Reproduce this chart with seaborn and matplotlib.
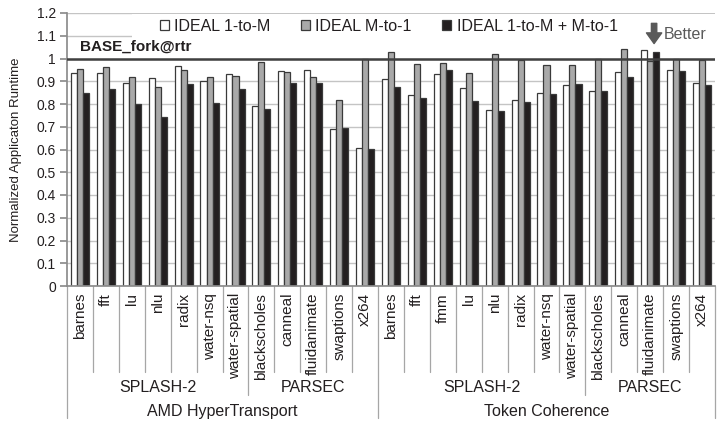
import matplotlib
matplotlib.use("Agg")
import matplotlib.pyplot as plt
from matplotlib.patches import Rectangle
from matplotlib.ticker import FuncFormatter
import numpy as np
import pandas as pd
import seaborn as sns

# ---- data ---------------------------------------------------------------
platforms = ["AMD HyperTransport", "Token Coherence"]
suites = [["SPLASH-2", "PARSEC"], ["SPLASH-2", "PARSEC"]]
suite_benchmarks = [
    [["barnes", "fft", "lu", "nlu", "radix", "water-nsq", "water-spatial"],
     ["blackscholes", "canneal", "fluidanimate", "swaptions", "x264"]],
    [["barnes", "fft", "fmm", "lu", "nlu", "radix", "water-nsq", "water-spatial"],
     ["blackscholes", "canneal", "fluidanimate", "swaptions", "x264"]],
]
series_names = ["IDEAL 1-to-M", "IDEAL M-to-1", "IDEAL 1-to-M + M-to-1"]

ideal_1_to_m = [0.935, 0.935, 0.891, 0.913, 0.968, 0.901, 0.930,
                0.791, 0.945, 0.949, 0.690, 0.608,
                0.910, 0.840, 0.930, 0.872, 0.774, 0.818, 0.847, 0.884,
                0.859, 0.939, 1.037, 0.948, 0.891]
ideal_m_to_1 = [0.952, 0.961, 0.919, 0.873, 0.948, 0.920, 0.925,
                0.986, 0.942, 0.917, 0.816, 1.000,
                1.027, 0.974, 0.979, 0.935, 1.020, 0.993, 0.971, 0.971,
                1.000, 1.042, 0.989, 1.000, 0.992]
ideal_both = [0.850, 0.866, 0.798, 0.744, 0.886, 0.803, 0.864,
              0.777, 0.891, 0.894, 0.693, 0.601,
              0.876, 0.828, 0.949, 0.815, 0.770, 0.807, 0.844, 0.886,
              0.857, 0.920, 1.030, 0.945, 0.884]

baseline_value = 1.0
baseline_label = "BASE_fork@rtr"

# ---- long table ----------------------------------------------------------
bench_names, slots = [], []
for p, plat in enumerate(platforms):
    for s, suite in enumerate(suites[p]):
        for b in suite_benchmarks[p][s]:
            bench_names.append(b)
            slots.append(f"{plat}|{suite}|{b}")

rows = []
for vals, name in zip([ideal_1_to_m, ideal_m_to_1, ideal_both], series_names):
    for slot, v in zip(slots, vals):
        rows.append({"slot": slot, "series": name, "value": v})
df = pd.DataFrame(rows)

# ---- figure --------------------------------------------------------------
sns.set_theme(style="white")
plt.rcParams["font.family"] = ["Liberation Sans", "DejaVu Sans"]

fig = plt.figure(figsize=(7.19, 4.22), dpi=100)
ax = fig.add_axes([67 / 719, 1 - 286 / 422, 648 / 719, 273 / 422])

text_color = "#231f20"
edge = "#3a3a3a"
sns.barplot(data=df, x="slot", y="value", hue="series", order=slots,
            hue_order=series_names, palette=["#ffffff", "#a9a9a9", "#231f20"],
            edgecolor=edge, linewidth=0.9, width=0.7, gap=0,
            saturation=1, legend=False, ax=ax, zorder=2)

ax.set_xlim(-0.5, len(slots) - 0.5)
ax.set_ylim(0, 1.2)
ax.set_yticks(np.arange(0, 1.21, 0.1))
ax.yaxis.set_major_formatter(FuncFormatter(lambda v, _: f"{v:g}"))
ax.yaxis.grid(True, color="#c4c4c4", linewidth=1.0, zorder=0.5)
ax.set_axisbelow(True)

for side in ["top", "right"]:
    ax.spines[side].set_visible(False)
ax.spines["left"].set_color("#8c8c8c")
ax.spines["bottom"].set_color("#8c8c8c")
ax.tick_params(axis="y", length=5, color="#8c8c8c", labelsize=10,
               labelcolor=text_color, pad=3, left=True)
ax.tick_params(axis="x", length=0, labelsize=11, labelcolor=text_color, pad=5)
ax.set_xticks(range(len(slots)))
ax.set_xticklabels(bench_names, rotation=90, ha="center", va="top")
ax.set_xlabel("")
ax.set_ylabel("Normalized Applicaton Runtime", fontsize=9.5, color=text_color)
ax.yaxis.set_label_coords(-0.069, 0.5)

# baseline
ax.axhline(baseline_value, color="#404040", linewidth=1.8, zorder=3)
ax.text(0.02, 0.875, baseline_label, transform=ax.transAxes, fontsize=11,
        fontweight="bold", color=text_color, va="center", ha="left", zorder=5)

# legend area
ax.add_patch(Rectangle((0.1003, 0.897), 0.8997, 0.099, transform=ax.transAxes,
                       facecolor="white", edgecolor="none", zorder=1))
leg = ax.legend(handles=ax.containers, labels=series_names, ncol=3,
                loc="center left", bbox_to_anchor=(0.1435, 0.952),
                frameon=False, fontsize=11.5, handlelength=0.55,
                handleheight=0.55, handletextpad=0.35, columnspacing=1.9,
                borderpad=0, borderaxespad=0)
for t in leg.get_texts():
    t.set_color(text_color)

# "Better" marker
ax.annotate("", xy=(0.906, 0.888), xytext=(0.906, 0.962),
            xycoords="axes fraction",
            arrowprops=dict(arrowstyle="simple,head_length=0.7,head_width=1.0,tail_width=0.35",
                            color="#595959", mutation_scale=11, shrinkA=0, shrinkB=0),
            zorder=5)
ax.text(0.921, 0.922, "Better", transform=ax.transAxes, fontsize=11.5,
        color="#595959", va="center", ha="left", zorder=5)

# ---- hierarchical category axis ------------------------------------------
trans = ax.get_xaxis_transform()
sep_color = "#a6a6a6"
level_bench, level_suite, level_plat = -0.315, -0.399, -0.4835

suite_edges, plat_edges = [-0.5], [-0.5]
suite_centers, plat_centers = [], []
pos = -0.5
for p, plat in enumerate(platforms):
    start_p = pos
    for s, suite in enumerate(suites[p]):
        n = len(suite_benchmarks[p][s])
        suite_centers.append((pos + n / 2, suite))
        pos += n
        suite_edges.append(pos)
    plat_centers.append(((start_p + pos) / 2, plat))
    plat_edges.append(pos)

for i in range(len(slots) + 1):
    x = i - 0.5
    bottom = level_bench
    if x in suite_edges:
        bottom = level_suite
    if x in plat_edges:
        bottom = level_plat
    ax.plot([x, x], [0, bottom], transform=trans, color=sep_color,
            linewidth=0.9, clip_on=False)

for x, label in suite_centers:
    ax.text(x, -0.37, label, transform=trans, ha="center", va="center",
            fontsize=11.5, color=text_color)
for x, label in plat_centers:
    ax.text(x, -0.4615, label, transform=trans, ha="center", va="center",
            fontsize=11.5, color=text_color)

fig.savefig("out.png", dpi=100)
